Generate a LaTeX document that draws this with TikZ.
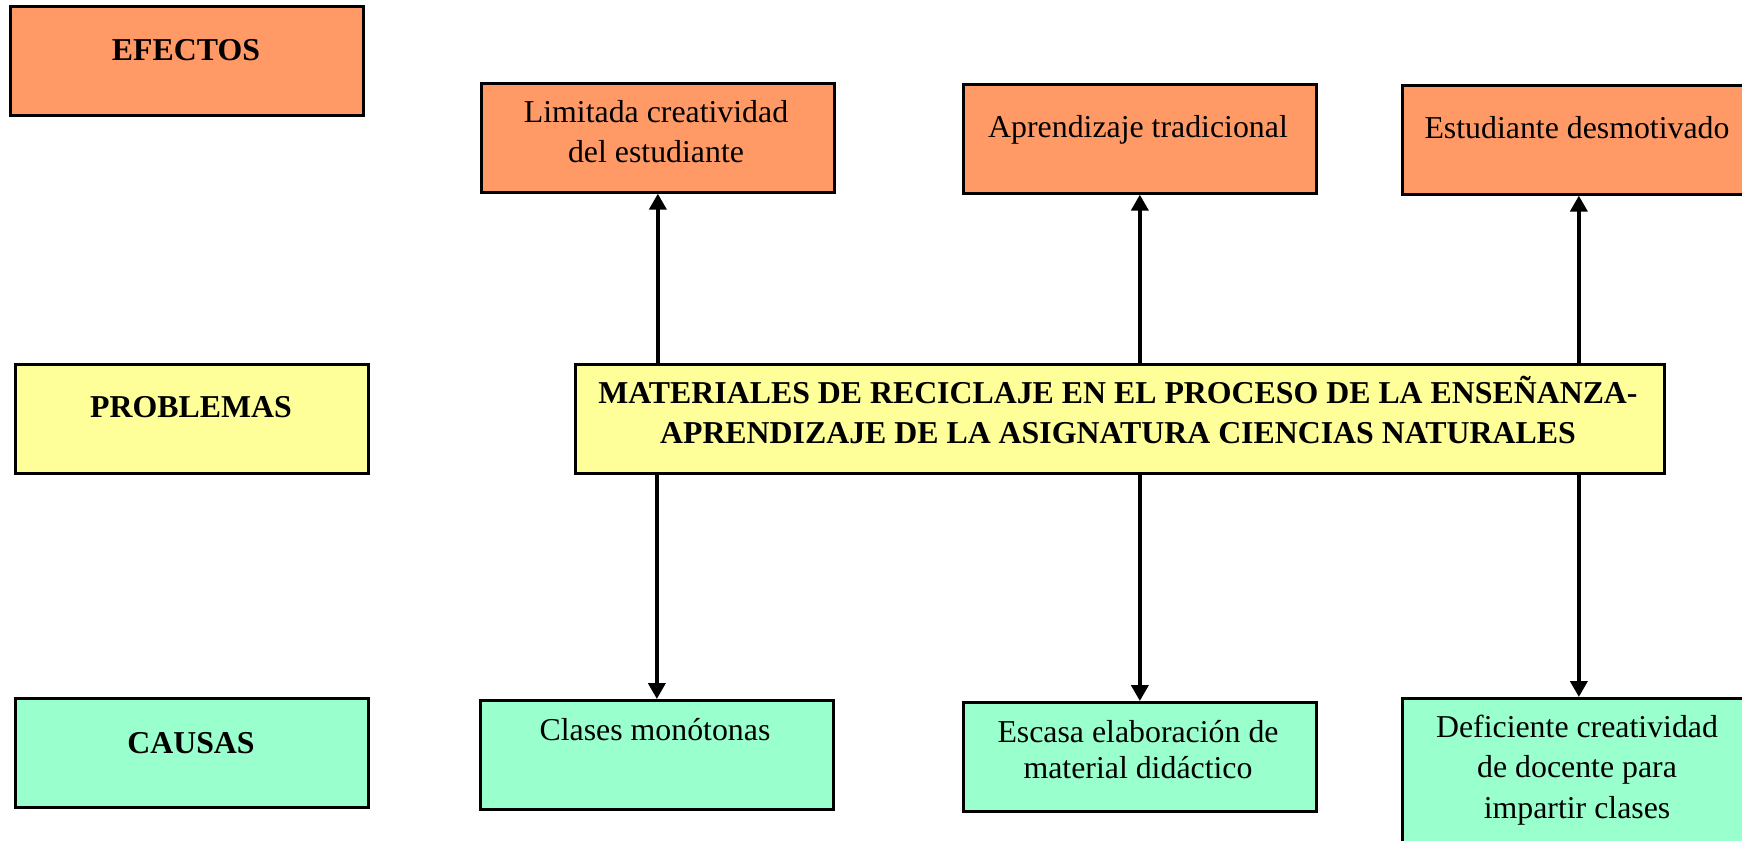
\documentclass[tikz,border=0pt]{standalone}
\usepackage{fontspec}
\setmainfont{Liberation Serif}
\usetikzlibrary{arrows.meta}
\definecolor{efecol}{RGB}{255,153,102}
\definecolor{probcol}{RGB}{255,255,153}
\definecolor{caucol}{RGB}{153,255,204}

\begin{document}
\begin{tikzpicture}[x=0.377pt, y=-0.377pt,
    caja/.style={draw, line width=1pt, inner sep=0pt, anchor=north west,
        minimum width=133.1pt, minimum height=41.1pt},
    texto/.style={anchor=base, align=center, inner sep=0pt,
        font=\fontsize{12}{15.1}\selectfont},
    titulo/.style={texto, font=\fontsize{12}{15.1}\selectfont\bfseries},
    flecha/.style={line width=1.4pt, -{Triangle[length=6pt, width=6.4pt]}}]

    \useasboundingbox (0,0) rectangle (1742,841);

    % Row labels on the left
    \node[caja, fill=efecol] (efectos) at (9,5) {};
    \node[titulo] (efectos-t) at (186,61) {EFECTOS};

    \node[caja, fill=probcol] (problemas) at (14,363) {};
    \node[titulo] (problemas-t) at (191,418) {PROBLEMAS};

    \node[caja, fill=caucol] (causas) at (14,697) {};
    \node[titulo] (causas-t) at (191,753) {CAUSAS};

    % Effects
    \node[caja, fill=efecol] (efe1) at (480,82) {};
    \node[texto] (efe1-t) at (656,163) {Limitada creatividad\\del estudiante};

    \node[caja, fill=efecol] (efe2) at (962,83) {};
    \node[texto] (efe2-t) at (1138,138) {Aprendizaje tradicional};

    \node[caja, fill=efecol] (efe3) at (1401,84) {};
    \node[texto] (efe3-t) at (1577,139) {Estudiante desmotivado};

    % Central problem
    \node[caja, fill=probcol, minimum width=410.6pt] (prob) at (574,363) {};
    \node[titulo] (prob-t) at (1118,444)
        {MATERIALES DE RECICLAJE EN EL PROCESO DE LA ENSEÑANZA-\\APRENDIZAJE DE LA ASIGNATURA CIENCIAS NATURALES};

    % Causes
    \node[caja, fill=caucol] (cau1) at (479,699) {};
    \node[texto] (cau1-t) at (655,740) {Clases monótonas};

    \node[caja, fill=caucol] (cau2) at (962,701) {};
    \node[texto, font=\fontsize{12}{13.2}\selectfont] (cau2-t) at (1138,778)
        {Escasa elaboración de\\material didáctico};

    \node[caja, fill=caucol, minimum height=62pt] (cau3) at (1401,697) {};
    \node[texto] (cau3-t) at (1577,818) {Deficiente creatividad\\de docente para\\impartir clases};

    % Arrows up to the effects
    \draw[flecha] (prob.north -| efe1.south) -- (efe1.south);
    \draw[flecha] (prob.north -| efe2.south) -- (efe2.south);
    \draw[flecha] (prob.north -| efe3.south) -- (efe3.south);

    % Arrows down to the causes
    \draw[flecha] (prob.south -| cau1.north) -- (cau1.north);
    \draw[flecha] (prob.south -| cau2.north) -- (cau2.north);
    \draw[flecha] (prob.south -| cau3.north) -- (cau3.north);

\end{tikzpicture}
\end{document}
